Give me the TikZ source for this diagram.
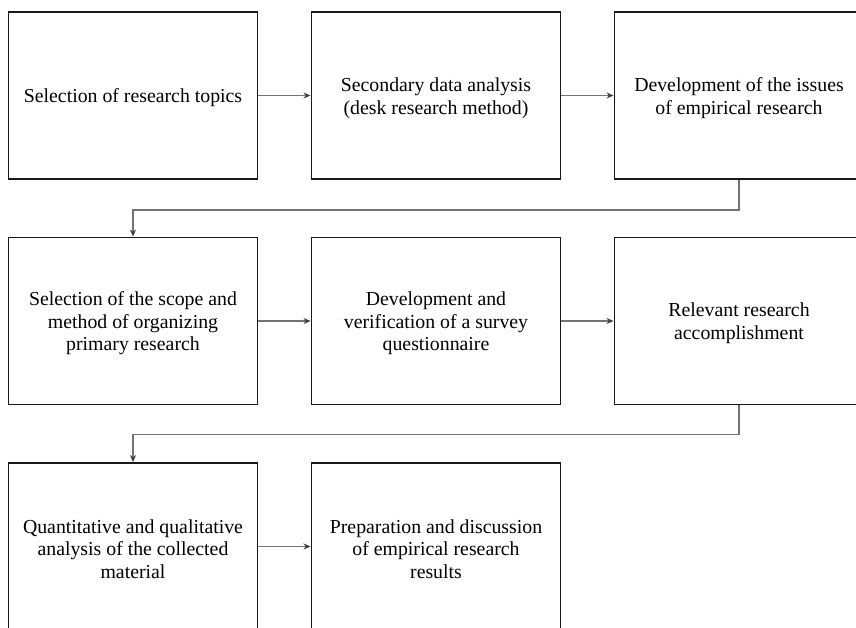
\documentclass[tikz,border=0pt]{standalone}
\usepackage{fontspec}
\setmainfont{Liberation Serif}
\usetikzlibrary{arrows.meta}
\begin{document}
\begin{tikzpicture}[x=1pt,y=-1pt,
  stagebox/.style={draw=black!90, line width=1.9pt, minimum width=249pt, minimum height=167pt,
    inner sep=0pt},
  lbl/.style={align=center, font=\fontsize{19.8}{22.6}\selectfont, yshift=-2.5pt, inner sep=0pt},
  conn/.style={draw=black!55, line width=1.6pt, -{Stealth[length=7pt,width=6pt,black!75]}}]
\useasboundingbox (0,0) rectangle (856,627);
\clip (0,0) rectangle (856,627);
\node[stagebox, label={[lbl]center:{Selection of research topics}}] (b1) at (133,95.5) {};
\node[stagebox, label={[lbl]center:{Secondary data analysis\\(desk research method)}}] (b2) at (436,95.5) {};
\node[stagebox, label={[lbl]center:{Development of the issues\\of empirical research}}] (b3) at (739,95.5) {};
\node[stagebox, label={[lbl]center:{Selection of the scope and\\method of organizing\\primary research}}] (b4) at (133,321) {};
\node[stagebox, label={[lbl]center:{Development and\\verification of a survey\\questionnaire}}] (b5) at (436,321) {};
\node[stagebox, label={[lbl]center:{Relevant research\\accomplishment}}] (b6) at (739,321) {};
\node[stagebox, label={[lbl]center:{Quantitative and qualitative\\analysis of the collected\\material}}] (b7) at (133,546.5) {};
\node[stagebox, label={[lbl]center:{Preparation and discussion\\of empirical research\\results}}] (b8) at (436,546.5) {};
\draw[conn] (b1.east) -- (b2.west);
\draw[conn] (b2.east) -- (b3.west);
\draw[conn] (b4.east) -- (b5.west);
\draw[conn] (b5.east) -- (b6.west);
\draw[conn] (b7.east) -- (b8.west);
\draw[conn] (b3.south) -- ++(0,30) -| (b4.north);
\draw[conn] (b6.south) -- ++(0,29) -| (b7.north);
\end{tikzpicture}
\end{document}
